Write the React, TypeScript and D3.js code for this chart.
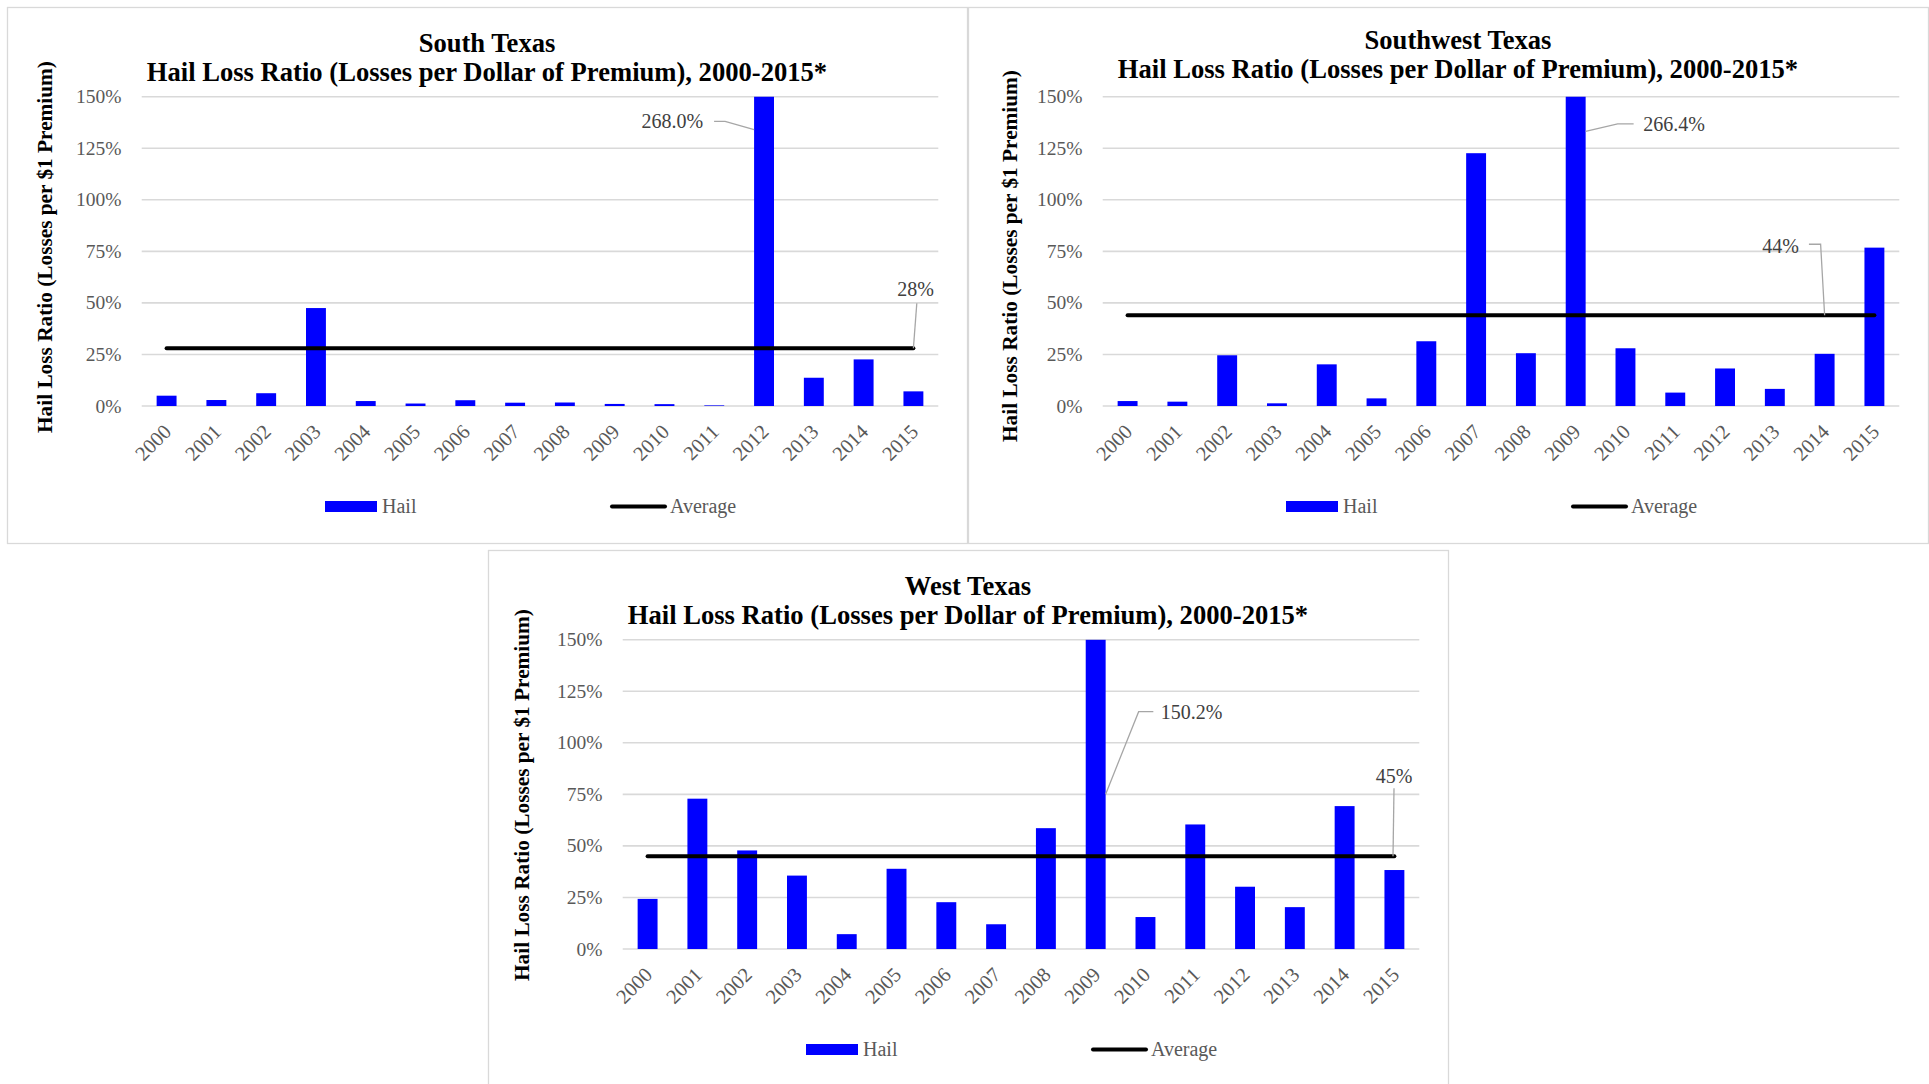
import React from "react";
import * as d3 from "d3";

const years = ["2000","2001","2002","2003","2004","2005","2006","2007","2008","2009","2010","2011","2012","2013","2014","2015"];
const southTexas = [5.0, 2.9, 6.2, 47.5, 2.4, 1.2, 2.8, 1.6, 1.7, 1.0, 0.9, 0.3, 268.0, 13.7, 22.6, 7.1];
const southwestTexas = [2.4, 2.1, 24.6, 1.3, 20.2, 3.7, 31.4, 122.6, 25.6, 266.4, 28.0, 6.5, 18.2, 8.3, 25.3, 76.8];
const westTexas = [24.3, 72.9, 47.8, 35.6, 7.2, 38.9, 22.7, 12.0, 58.6, 150.2, 15.5, 60.4, 30.2, 20.3, 69.3, 38.3];
const averages = [28, 44, 45];
const regionNames = ["South Texas", "Southwest Texas", "West Texas"];
const yTicks = [0, 25, 50, 75, 100, 125, 150];
const subtitle = "Hail Loss Ratio (Losses per Dollar of Premium), 2000-2015*";
const yAxisTitle = "Hail Loss Ratio (Losses per $1 Premium)";

const FONT = "'Liberation Serif', 'Times New Roman', serif";
const PANEL_W = 960;
const PANEL_H = 536;
const PL = 134.7, PR = 931.3, PT = 89.7, PB = 399;

const layouts = [
  {
    x: 7, y: 7, titleDx: 0, titleDy: 0, yLab: [38, 240],
    peak: { side: "left", ex: -29, ey: -8.3, end: -40, tx: -51 },
    avg: { year: "2015", ax: 0, ex: 3.4, ey: -45, end: 3.4, tx: 2.3, ty: -52, anchor: "middle", central: false },
  },
  {
    x: 968, y: 7, titleDx: 10, titleDy: -2.5, yLab: [42, 249],
    peak: { side: "right", ex: 32, ey: -7.4, end: 48, tx: 57.5 },
    avg: { year: "2014", ax: 0, ex: -4, ey: -71, end: -15.7, tx: -25.7, ty: -69, anchor: "end", central: true },
  },
  {
    x: 488, y: 550, titleDx: 0, titleDy: 0, yLab: [34, 245],
    peak: { side: "right", ex: 33, ey: -82.5, end: 47.7, tx: 55 },
    avg: { year: "2015", ax: -1.4, ex: 1, ey: -68, end: 1, tx: 1, ty: -73, anchor: "middle", central: false },
  },
];
const seriesList = [southTexas, southwestTexas, westTexas];

function Panel({ idx }: { idx: number }) {
  const L = layouts[idx];
  const values = seriesList[idx];
  const avg = averages[idx];
  const x = d3.scaleBand<string>().domain(years).range([PL, PR]).paddingInner(0.6).paddingOuter(0.3);
  const y = d3.scaleLinear().domain([0, 150]).range([PB, PT]);
  const bw = x.bandwidth();
  const cx = (yr: string) => (x(yr) as number) + bw / 2;
  const clipId = `clip${idx}`;

  const maxV = d3.max(values) as number;
  const pi = values.indexOf(maxV);
  const pYear = years[pi];
  const pax = L.peak.side === "left" ? (x(pYear) as number) : (x(pYear) as number) + bw;
  const pay = y(maxV / 2);
  const pex = pax + L.peak.ex, pey = pay + L.peak.ey;
  const pEnd = pax + L.peak.end;

  const aax = cx(L.avg.year) + L.avg.ax;
  const aay = y(avg);
  const aex = aax + L.avg.ex, aey = aay + L.avg.ey;
  const aEnd = aax + L.avg.end;

  const avgLine = d3.line<string>().x((d) => cx(d)).y(() => y(avg));

  return (
    <g transform={`translate(${L.x},${L.y})`}>
      <rect x={0.5} y={0.5} width={PANEL_W} height={PANEL_H} fill="#fff" stroke="#d9d9d9" strokeWidth={1.3} />
      <defs>
        <clipPath id={clipId}>
          <rect x={PL} y={PT} width={PR - PL} height={PB - PT} />
        </clipPath>
      </defs>
      <text x={480 + L.titleDx} y={44.7 + L.titleDy} textAnchor="middle" fontFamily={FONT} fontWeight="bold" fontSize={26.6} fill="#000">
        {regionNames[idx]}
      </text>
      <text x={480 + L.titleDx} y={73.7 + L.titleDy} textAnchor="middle" fontFamily={FONT} fontWeight="bold" fontSize={26.6} fill="#000">
        {subtitle}
      </text>
      <text
        transform={`translate(${L.yLab[0]},${L.yLab[1]}) rotate(-90)`}
        textAnchor="middle"
        dominantBaseline="central"
        fontFamily={FONT}
        fontWeight="bold"
        fontSize={21.3}
        fill="#000"
      >
        {yAxisTitle}
      </text>
      {yTicks.map((t) => (
        <g key={t}>
          <line x1={PL} x2={PR} y1={y(t)} y2={y(t)} stroke="#d9d9d9" strokeWidth={1.6} />
          <text x={114.5} y={y(t)} textAnchor="end" dominantBaseline="central" fontFamily={FONT} fontSize={19.5} fill="#595959">
            {t}%
          </text>
        </g>
      ))}
      <g clipPath={`url(#${clipId})`}>
        {values.map((v, i) => (
          <rect key={i} x={x(years[i]) as number} y={y(v)} width={bw} height={PB - y(v)} fill="#0000ff" />
        ))}
      </g>
      <path d={avgLine(years) as string} stroke="#000" strokeWidth={4} strokeLinecap="round" fill="none" />
      {years.map((yr) => (
        <text
          key={yr}
          transform={`translate(${cx(yr) + 6},${PB + 27}) rotate(-45)`}
          textAnchor="end"
          fontFamily={FONT}
          fontSize={20.5}
          fill="#595959"
        >
          {yr}
        </text>
      ))}
      <polyline points={`${pax},${pay} ${pex},${pey} ${pEnd},${pey}`} fill="none" stroke="#a6a6a6" strokeWidth={1.3} />
      <text
        x={pax + L.peak.tx}
        y={pey}
        textAnchor={L.peak.side === "left" ? "end" : "start"}
        dominantBaseline="central"
        fontFamily={FONT}
        fontSize={20}
        fill="#404040"
      >
        {maxV.toFixed(1)}%
      </text>
      <polyline points={`${aax},${aay} ${aex},${aey} ${aEnd},${aey}`} fill="none" stroke="#a6a6a6" strokeWidth={1.3} />
      <text
        x={aax + L.avg.tx}
        y={aay + L.avg.ty}
        textAnchor={L.avg.anchor}
        dominantBaseline={L.avg.central ? "central" : "auto"}
        fontFamily={FONT}
        fontSize={20}
        fill="#404040"
      >
        {Math.round(avg)}%
      </text>
      <rect x={318} y={494} width={52} height={11} fill="#0000ff" />
      <text x={375} y={506} fontFamily={FONT} fontSize={20} fill="#595959">Hail</text>
      <line x1={605} x2={658} y1={499.5} y2={499.5} stroke="#000" strokeWidth={4} strokeLinecap="round" />
      <text x={663} y={506} fontFamily={FONT} fontSize={20} fill="#595959">Average</text>
    </g>
  );
}

export default function App() {
  return (
    <div style={{ position: "absolute", left: 0, top: 0 }}>
      <svg width={1929} height={1084} style={{ display: "block", background: "#fff" }}>
        <rect x={0} y={0} width={1929} height={1084} fill="#fff" />
        <Panel idx={0} />
        <Panel idx={1} />
        <Panel idx={2} />
      </svg>
    </div>
  );
}
